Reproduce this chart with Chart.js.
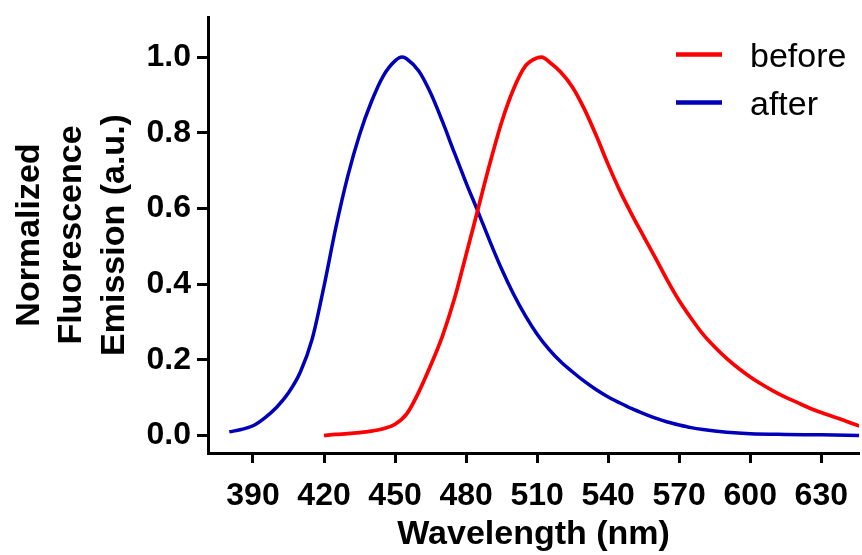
<!DOCTYPE html>
<html>
<head>
<meta charset="utf-8">
<script src="https://cdn.jsdelivr.net/npm/chart.js@4"></script>
<style>
  html, body { margin: 0; padding: 0; background: #fff; }
  #wrap { width: 862px; height: 555px; }
</style>
</head>
<body>
<div id="wrap"><canvas id="emissionChart" width="862" height="555"></canvas></div>
<script>
// Wavelength axis (nm)
const xTicks = [390, 420, 450, 480, 510, 540, 570, 600, 630];
const yTicks = [0, 0.2, 0.4, 0.6, 0.8, 1.0];

// "before" emission (red)
const beforeWl = [420, 425, 430, 435, 440, 445, 450, 455, 460, 465, 470, 475, 480, 485, 490, 495, 500, 505, 510, 512, 515, 520, 525, 530, 535, 540, 545, 550, 555, 560, 565, 570, 575, 580, 585, 590, 595, 600, 605, 610, 615, 620, 625, 630, 635, 640, 646];
const beforeVals = [0.0, 0.003, 0.005, 0.008, 0.012, 0.018, 0.03, 0.058, 0.115, 0.185, 0.263, 0.36, 0.478, 0.598, 0.718, 0.828, 0.915, 0.976, 0.998, 1.0, 0.988, 0.96, 0.92, 0.862, 0.792, 0.716, 0.646, 0.584, 0.526, 0.469, 0.41, 0.356, 0.31, 0.268, 0.234, 0.204, 0.178, 0.155, 0.135, 0.117, 0.101, 0.087, 0.073, 0.061, 0.05, 0.039, 0.025];

// "after" emission (blue)
const afterWl = [380, 385, 390, 395, 400, 405, 410, 415, 420, 425, 430, 435, 440, 445, 450, 453, 455, 460, 465, 470, 475, 480, 485, 490, 495, 500, 505, 510, 515, 520, 525, 530, 535, 540, 545, 550, 555, 560, 565, 570, 575, 580, 590, 600, 615, 630, 646];
const afterVals = [0.01, 0.016, 0.026, 0.047, 0.075, 0.113, 0.168, 0.255, 0.395, 0.55, 0.685, 0.795, 0.882, 0.95, 0.99, 1.0, 0.995, 0.963, 0.905, 0.83, 0.748, 0.668, 0.592, 0.514, 0.44, 0.374, 0.317, 0.268, 0.228, 0.195, 0.168, 0.143, 0.121, 0.102, 0.086, 0.071, 0.058, 0.046, 0.036, 0.028, 0.021, 0.016, 0.009, 0.005, 0.003, 0.002, 0.0];

const FONT = "'Liberation Sans', Arial, sans-serif";

// legend drawn inside the plot, top right
const insideLegend = {
    id: 'insideLegend',
    afterDraw(chart) {
        const ctx = chart.ctx;
        ctx.save();
        ctx.font = '34px ' + FONT;
        ctx.textBaseline = 'alphabetic';
        ctx.fillStyle = '#000';
        chart.data.datasets.forEach((ds, i) => {
            const y = 54.5 + i * 48;
            ctx.strokeStyle = ds.borderColor;
            ctx.lineWidth = 4.5;
            ctx.beginPath();
            ctx.moveTo(676, y);
            ctx.lineTo(722, y);
            ctx.stroke();
            ctx.fillText(ds.label, 750, y + 12);
        });
        ctx.restore();
    }
};

const axisStyle = {
    display: true,
    drawOnChartArea: false,
    drawTicks: true,
    tickLength: 10,
    tickWidth: 3,
    tickColor: '#000',
    color: '#000'
};

new Chart(document.getElementById('emissionChart'), {
    type: 'line',
    data: {
        datasets: [
            {
                label: 'before',
                data: beforeWl.map((w, i) => ({ x: w, y: beforeVals[i] })),
                borderColor: '#ff0000',
                borderWidth: 3.7,
                pointRadius: 0,
                cubicInterpolationMode: 'monotone',
                fill: false
            },
            {
                label: 'after',
                data: afterWl.map((w, i) => ({ x: w, y: afterVals[i] })),
                borderColor: '#0000bb',
                borderWidth: 3.5,
                pointRadius: 0,
                cubicInterpolationMode: 'monotone',
                fill: false
            }
        ]
    },
    options: {
        responsive: false,
        animation: false,
        layout: { padding: { top: 17, left: 0, right: 0, bottom: 0 } },
        plugins: {
            legend: { display: false },
            tooltip: { enabled: false }
        },
        scales: {
            x: {
                type: 'linear',
                min: 371,
                max: 646,
                afterBuildTicks: s => { s.ticks = xTicks.map(v => ({ value: v })); },
                afterFit: s => { s.height = 102; },
                grid: axisStyle,
                border: { display: true, color: '#000', width: 3 },
                ticks: {
                    color: '#000',
                    padding: 14,
                    maxRotation: 0,
                    autoSkip: false,
                    font: { family: FONT, size: 32, weight: 'bold' }
                },
                title: {
                    display: true,
                    text: 'Wavelength (nm)',
                    color: '#000',
                    padding: { top: 3, bottom: 0 },
                    font: { family: FONT, size: 34, weight: 'bold' }
                }
            },
            y: {
                min: -0.046,
                max: 1.106,
                afterBuildTicks: s => { s.ticks = yTicks.map(v => ({ value: v })); },
                afterFit: s => { s.width = 208; s.paddingTop = 0; s.paddingBottom = 0; },
                grid: Object.assign({}, axisStyle, { tickLength: 11 }),
                border: { display: true, color: '#000', width: 3 },
                ticks: {
                    color: '#000',
                    padding: 6,
                    callback: v => v.toFixed(1),
                    font: { family: FONT, size: 32, weight: 'bold', lineHeight: 1 }
                },
                title: {
                    display: true,
                    text: ['Normalized', 'Fluorescence', 'Emission (a.u.)'],
                    color: '#000',
                    padding: { top: 8, bottom: 0 },
                    font: { family: FONT, size: 34, weight: 'bold', lineHeight: 1.25 }
                }
            }
        }
    },
    plugins: [insideLegend]
});
</script>
</body>
</html>
